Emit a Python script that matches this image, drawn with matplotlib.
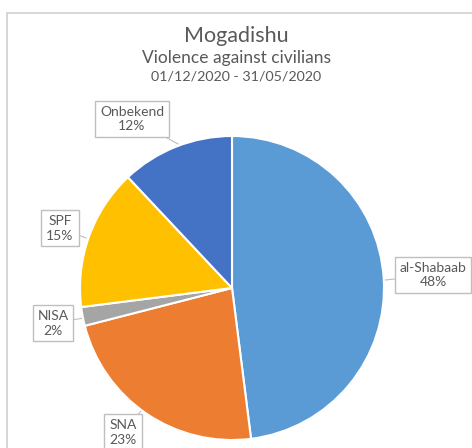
import matplotlib
matplotlib.use("Agg")
import matplotlib.pyplot as plt
from matplotlib.patches import Rectangle

# Gegevens
labels = ["al-Shabaab", "SNA", "NISA", "SPF", "Onbekend"]
values = [48, 23, 2, 15, 12]
colors = ["#5B9BD5", "#ED7D31", "#A5A5A5", "#FFC000", "#4472C4"]

W, H = 472, 448
plt.rcParams['font.family'] = ['Lato', 'DejaVu Sans']
txt = "#595959"

fig = plt.figure(figsize=(W / 100, H / 100), dpi=100)

# Kader van de grafiek
fig.patches.append(Rectangle((7 / W, -0.1), 1.2, 1 - 13 / H + 0.1, transform=fig.transFigure,
                             fill=False, edgecolor="#D0D0D0", linewidth=1.2))

# Taart
cx, cy, r = 232, 288, 152
ax = fig.add_axes([(cx - r) / W, (H - cy - r) / H, 2 * r / W, 2 * r / H])
ax.pie(values, colors=colors, startangle=90, counterclock=False,
       wedgeprops=dict(edgecolor="white", linewidth=1.5))
ax.set_xlim(-1, 1)
ax.set_ylim(-1, 1)
ax.set_aspect("equal")
ax.axis("off")

# Titels
fig.text(236 / W, 1 - 36 / H, "Mogadishu", ha="center", va="center", fontsize=15.5, color=txt)
fig.text(236 / W, 1 - 58 / H, "Violence against civilians", ha="center", va="center", fontsize=12.5, color=txt)
fig.text(236 / W, 1 - 76 / H, "01/12/2020 - 31/05/2020", ha="center", va="center", fontsize=10.3, color=txt)

# Labels met kaders (positie in pixels van boven)
label_pos = [(433, 275), (123, 432), (53, 323), (60, 228), (132, 119)]
tips = [(385, 280), (147, 404), (84, 318), (86, 238), (178, 144)]
for lab, v, (lx, ly), (tx, ty) in zip(labels, values, label_pos, tips):
    fig.text(lx / W, 1 - ly / H, f"{lab}\n{v}%", ha="center", va="center",
             fontsize=10, color=txt, linespacing=1.3,
             bbox=dict(boxstyle="square,pad=0.35", facecolor="white", edgecolor="#BFBFBF", linewidth=1))
    fig.add_artist(plt.Line2D([lx / W, tx / W], [1 - ly / H, 1 - ty / H], color="#BFBFBF",
                              linewidth=0.8, zorder=0))

fig.savefig("out.png", dpi=100)
